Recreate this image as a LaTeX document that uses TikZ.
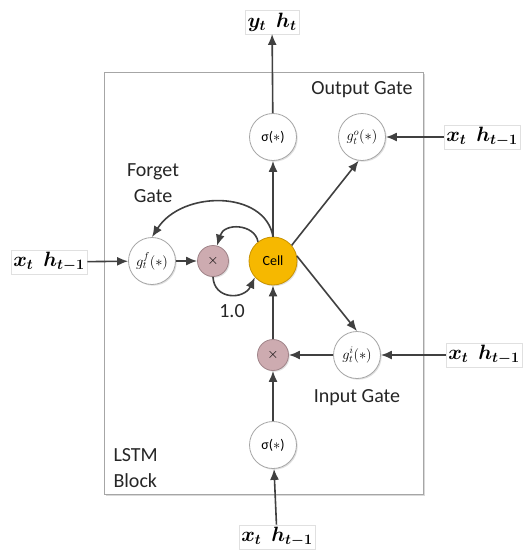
\documentclass[tikz,border=0pt]{standalone}
\usepackage{fontspec}
\setmainfont{Carlito}
\usetikzlibrary{arrows.meta,shadows}
\definecolor{linegray}{HTML}{404040}
\definecolor{rimgray}{HTML}{A6A6A6}
\definecolor{mulfill}{HTML}{CDABB0}
\definecolor{mulrim}{HTML}{A08489}
\definecolor{cellfill}{HTML}{F6B800}
\definecolor{cellrim}{HTML}{C99300}
\newcommand{\sigstar}{σ($*$)}
\begin{document}
\begin{tikzpicture}[x=1pt,y=-1pt,
  softshadow/.style={drop shadow={opacity=0.25,shadow xshift=1.2pt,shadow yshift=-1.2pt}},
  gate/.style={circle,draw=rimgray,fill=white,line width=0.8pt,minimum size=47pt,
    inner sep=0pt,font=\fontsize{14}{16}\selectfont,softshadow},
  mult/.style={circle,draw=mulrim,fill=mulfill,line width=0.8pt,minimum size=31pt,
    inner sep=0pt,font=\fontsize{14}{16}\selectfont,softshadow},
  cellnode/.style={circle,draw=cellrim,fill=cellfill,line width=0.8pt,minimum size=48pt,
    inner sep=0pt,font=\fontsize{14}{16}\selectfont,softshadow},
  io/.style={draw=black!12,fill=white,inner sep=2.5pt,font=\fontsize{22}{24}\selectfont\boldmath},
  lbl/.style={font=\fontsize{20}{26}\selectfont,text=black!85},
  conn/.style={draw=linegray,line width=1.6pt,-{Latex[length=11pt,width=9pt]}}]
\useasboundingbox (0,0) rectangle (525,552);

% block frame
\draw[draw=rimgray,fill=white,line width=1pt,
  drop shadow={opacity=0.3,shadow xshift=1.5pt,shadow yshift=-1.5pt}]
  (104,72) rectangle (423,494);

% gates and cell
\node[gate] (sigout) at (273,137) {\sigstar};
\node[gate] (go) at (362,137) {$g^{o}_{t}(*)$};
\node[gate] (gf) at (152,261) {$g^{f}_{t}(*)$};
\node[mult] (mf) at (213,261) {$\times$};
\node[cellnode] (cell) at (273,261) {Cell};
\node[gate] (gi) at (357,355) {$g^{i}_{t}(*)$};
\node[mult] (mi) at (273,355) {$\times$};
\node[gate] (sigin) at (273,445) {\sigstar};

% inputs and output
\node[io] (yout) at (272,22) {$y_t\ \ h_t$};
\node[io] (xo) at (482,137) {$x_t\ \ h_{t-1}$};
\node[io] (xf) at (49,262) {$x_t\ \ h_{t-1}$};
\node[io] (xi) at (484,355) {$x_t\ \ h_{t-1}$};
\node[io] (xb) at (277,537) {$x_t\ \ h_{t-1}$};

% captions
\node[lbl] (outcap) at (362,90) {Output Gate};
\node[lbl,align=center] (fcap) at (153,183) {Forget\\Gate};
\node[lbl] (icap) at (357,398) {Input Gate};
\node[lbl] (one) at (232,311) {1.0};
\node[lbl,align=left,anchor=west] (blk) at (110,468) {LSTM\\Block};

% connectors
\draw[conn] (sigout) -- (yout);
\draw[conn] (xo) -- (go);
\draw[conn] (xf) -- (gf);
\draw[conn] (gf) -- (mf);
\draw[conn] (cell) -- (sigout);
\draw[conn] (cell.40) -- (go.262);
\draw[conn] (cell.12) -- (gi.north);
\draw[conn] (xi) -- (gi);
\draw[conn] (gi) -- (mi);
\draw[conn] (mi) -- (cell);
\draw[conn] (sigin) -- (mi);
\draw[conn] (xb) -- (sigin);
\draw[conn] (cell.north) .. controls (265,190) and (182,190) .. (gf.north);
\draw[conn] (cell.128) .. controls (255,224) and (224,222) .. (mf.75);
\draw[conn] (mf.south) .. controls (214,300) and (244,300) .. (cell.222);
\end{tikzpicture}
\end{document}
